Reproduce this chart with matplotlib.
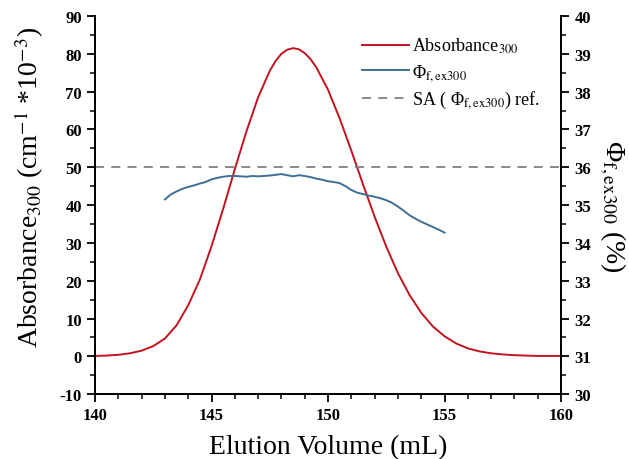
import matplotlib
matplotlib.use("Agg")
import matplotlib.pyplot as plt
from matplotlib.ticker import MultipleLocator

plt.rcParams["font.family"] = ["Liberation Serif", "DejaVu Serif"]
plt.rcParams["mathtext.fontset"] = "stix"
plt.rcParams["axes.unicode_minus"] = False

# Absorbance at 300 nm (cm^-1 * 10^-3) vs elution volume (mL)
vol_abs = [140.0, 140.5, 141.0, 141.5, 142.0, 142.5, 143.0, 143.5, 144.0, 144.5,
           145.0, 145.5, 146.0, 146.5, 147.0, 147.5, 147.75, 148.0, 148.25, 148.5,
           148.75, 149.0, 149.25, 149.5, 150.0, 150.5, 151.0, 151.5, 152.0, 152.5,
           153.0, 153.5, 154.0, 154.5, 155.0, 155.5, 156.0, 156.5, 157.0, 157.5,
           158.0, 158.5, 159.0, 159.5, 160.0]
absorbance = [0.1, 0.2, 0.4, 0.8, 1.5, 2.7, 4.7, 8.2, 13.5, 20.3,
              29.1, 39.0, 49.5, 59.5, 68.5, 75.5, 78.1, 80.0, 81.1, 81.5,
              81.2, 80.2, 78.6, 76.4, 70.5, 62.9, 54.4, 45.5, 36.9, 29.0,
              22.0, 16.2, 11.5, 7.9, 5.3, 3.4, 2.1, 1.3, 0.8, 0.5,
              0.3, 0.2, 0.1, 0.1, 0.1]

# fluorescence quantum yield (%) across the peak
vol_phi = [143.0, 143.25, 143.5, 143.75, 144.0, 144.25, 144.5, 144.75, 145.0, 145.25,
           145.5, 145.75, 146.0, 146.25, 146.5, 146.75, 147.0, 147.25, 147.5, 147.75,
           148.0, 148.25, 148.5, 148.75, 149.0, 149.25, 149.5, 149.75, 150.0, 150.25,
           150.5, 150.75, 151.0, 151.25, 151.5, 151.75, 152.0, 152.25, 152.5, 152.75,
           153.0, 153.25, 153.5, 153.75, 154.0, 154.25, 154.5, 154.75, 155.0]
phi = [35.15, 35.28, 35.36, 35.43, 35.48, 35.52, 35.57, 35.61, 35.68, 35.72,
       35.75, 35.77, 35.77, 35.76, 35.75, 35.77, 35.76, 35.77, 35.78, 35.80,
       35.82, 35.79, 35.76, 35.79, 35.77, 35.74, 35.70, 35.67, 35.63, 35.61,
       35.58, 35.50, 35.40, 35.33, 35.29, 35.25, 35.22, 35.18, 35.13, 35.06,
       34.96, 34.85, 34.73, 34.64, 34.56, 34.49, 34.42, 34.35, 34.27]

sa_ref = 36.0

fig = plt.figure(figsize=(6.29, 4.60), dpi=100)
ax = fig.add_axes([0.151, 0.141, 0.741, 0.822])
ax2 = ax.twinx()

l1, = ax.plot(vol_abs, absorbance, color="#C0141F", lw=1.4, label="Absorbance$_{300}$")
l2, = ax2.plot(vol_phi, phi, color="#3F6E96", lw=1.4, label="Φ$_{\\rm f,ex300}$")
l3 = ax2.axhline(sa_ref, color="#808080", lw=1.3, ls=(0, (5, 4)),
                 label="SA ( Φ$_{\\rm f,ex300}$) ref.")

ax.set_xlim(140, 160)
ax.set_ylim(-10, 90)
ax2.set_ylim(30, 40)

ax.xaxis.set_major_locator(MultipleLocator(5))
ax.xaxis.set_minor_locator(MultipleLocator(1))
ax.yaxis.set_major_locator(MultipleLocator(10))
ax.yaxis.set_minor_locator(MultipleLocator(5))
ax2.yaxis.set_major_locator(MultipleLocator(1))
ax2.yaxis.set_minor_locator(MultipleLocator(0.5))

for a in (ax, ax2):
    a.spines["top"].set_visible(False)
    for s in a.spines.values():
        s.set_linewidth(1.3)
    a.tick_params(which="major", direction="out", length=6, width=1.3, labelsize=12)
    a.tick_params(which="minor", direction="out", length=3.5, width=1.1)
    for lab in a.get_xticklabels() + a.get_yticklabels():
        lab.set_fontweight("bold")

ax.set_xlabel("Elution Volume (mL)", fontsize=20, labelpad=8)
ax.set_ylabel("Absorbance$_{300}$ (cm$^{-1}$ *10$^{-3}$)", fontsize=20, labelpad=6)
ax.yaxis.set_label_coords(-0.105, 0.55)
ax2.set_ylabel("Φ$_{\\rm f,ex300}$ (%)", fontsize=20, rotation=270, labelpad=26)

ax.legend(handles=[l1, l2, l3], loc="upper right", bbox_to_anchor=(0.99, 0.99),
          frameon=False, fontsize=13, handlelength=2.6, handletextpad=0.2,
          labelspacing=0.35)

fig.savefig("out.png", dpi=100)
